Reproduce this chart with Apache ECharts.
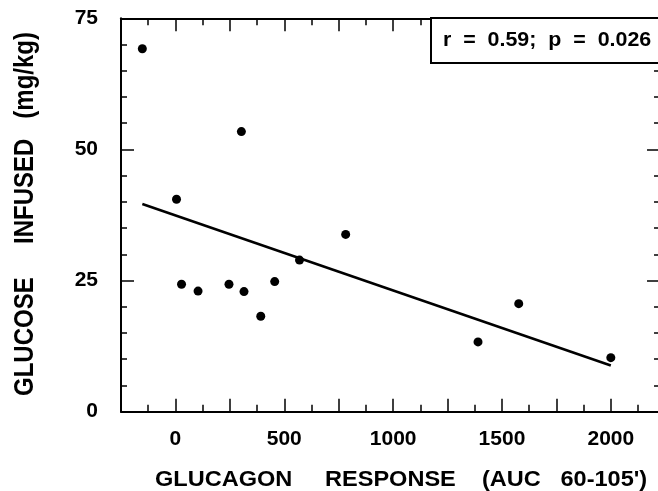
<!DOCTYPE html>
<html>
<head>
<meta charset="utf-8">
<script src="https://cdn.jsdelivr.net/npm/echarts@6/dist/echarts.min.js"></script>
<style>html,body{margin:0;padding:0;background:#fff;overflow:hidden;}#c{width:658px;height:491px;}</style>
</head>
<body>
<div id="c"></div>
<script>
const glucagon = [-152, 5, 303, 28, 104, 246, 315, 392, 456, 570, 782, 1390, 1577, 2000];
const glucose = [69.2, 40.5, 53.4, 24.3, 23.0, 24.3, 22.9, 18.2, 24.8, 28.9, 33.8, 13.3, 20.6, 10.3];
const fitX = [-152, 2000];
const fitY = [39.6, 8.8];
const xTickLabels = [0, 500, 1000, 1500, 2000];
const xTitle = "GLUCAGON     RESPONSE    (AUC   60-105')";
const yTitle = "GLUCOSE     INFUSED   (mg/kg)";
const statText = "r  =  0.59;  p  =  0.026";

const ink = '#000';
const font = '"Liberation Sans", Arial, sans-serif';
const chart = echarts.init(document.getElementById('c'));

// the scanned figure is cropped just past its right frame line
const xMin = -250, xMax = 2226, pxPerUnit = 0.2177;

const xBase = {
  type: 'value', min: xMin, max: xMax, interval: 250,
  axisLine: {show: true, onZero: false, lineStyle: {color: ink, width: 2}},
  axisTick: {show: true, inside: true, length: 13, lineStyle: {color: ink, width: 1.5}},
  minorTick: {show: true, splitNumber: 2, length: 7, lineStyle: {color: ink, width: 1.5}},
  splitLine: {show: false}
};
const yBase = {
  type: 'value', min: 0, max: 75, interval: 25,
  axisLine: {show: true, onZero: false, lineStyle: {color: ink, width: 2}},
  axisTick: {show: true, inside: true, length: 13, lineStyle: {color: ink, width: 1.5}},
  minorTick: {show: true, splitNumber: 5, length: 6, lineStyle: {color: ink, width: 1.5}},
  splitLine: {show: false}
};

chart.setOption({
  animation: false,
  grid: {left: 121, top: 18.3, width: (xMax - xMin) * pxPerUnit, height: 393.4, containLabel: false, outerBoundsMode: 'none'},
  xAxis: [
    Object.assign({}, xBase, {position: 'bottom',
      axisLabel: {show: true, margin: 17, color: ink, fontFamily: font, fontWeight: 'bold', fontSize: 21,
        showMinLabel: false, showMaxLabel: false,
        formatter: v => xTickLabels.indexOf(v) >= 0 ? String(v) : ''}}),
    Object.assign({}, xBase, {position: 'top', axisLabel: {show: false}})
  ],
  yAxis: [
    Object.assign({}, yBase, {position: 'left',
      axisLabel: {show: true, margin: 23, color: ink, fontFamily: font, fontWeight: 'bold', fontSize: 21}}),
    Object.assign({}, yBase, {position: 'right', axisLabel: {show: false}})
  ],
  series: [
    {
      type: 'line', xAxisIndex: 0, yAxisIndex: 0,
      data: fitX.map((x, i) => [x, fitY[i]]),
      showSymbol: false, symbol: 'none',
      lineStyle: {color: ink, width: 2.5}, silent: true, z: 2
    },
    {
      type: 'scatter', xAxisIndex: 0, yAxisIndex: 0,
      data: glucagon.map((x, i) => [x, glucose[i]]),
      symbol: 'circle', symbolSize: 9,
      itemStyle: {color: ink, opacity: 1}, z: 3
    }
  ],
  graphic: [
    {type: 'rect', x: 431, y: 18, z: 10,
      shape: {x: 0, y: 0, width: 240, height: 45},
      style: {fill: '#fff', stroke: ink, lineWidth: 2}},
    {type: 'text', x: 443, y: 40, scaleX: 1.07, z: 11,
      style: {text: statText, fill: ink, font: 'bold 20px ' + font, verticalAlign: 'middle'}},
    {type: 'text', x: 155, y: 480, scaleX: 1.07, z: 11,
      style: {text: xTitle, fill: ink, font: 'bold 22px ' + font, verticalAlign: 'middle'}},
    {type: 'text', x: 25, y: 214, rotation: Math.PI / 2, scaleY: 1.15, z: 11,
      style: {text: yTitle, fill: ink, font: 'bold 24px ' + font, align: 'center', verticalAlign: 'middle'}}
  ]
});
</script>
</body>
</html>
